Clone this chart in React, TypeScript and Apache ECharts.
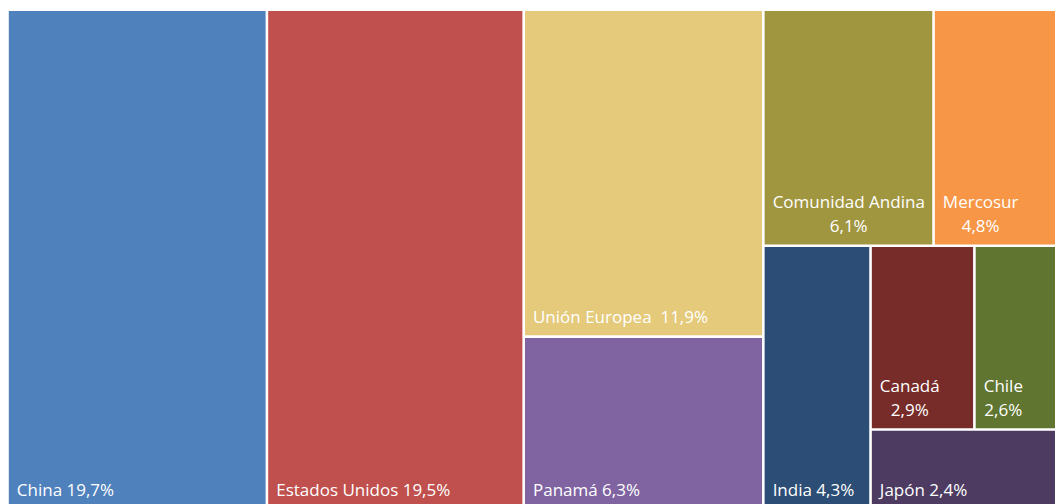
import { useEffect, useRef } from "react";
import * as echarts from "echarts";

// ---- data ----
const categories = [
  "China",
  "Estados Unidos",
  "Unión Europea",
  "Panamá",
  "Comunidad Andina",
  "Mercosur",
  "India",
  "Canadá",
  "Chile",
  "Japón",
];
const shares = [19.7, 19.5, 11.9, 6.3, 6.1, 4.8, 4.3, 2.9, 2.6, 2.4];
const colors = [
  "#4F81BD",
  "#C0504D",
  "#E4CA7A",
  "#8064A2",
  "#A19640",
  "#F79646",
  "#2C4D75",
  "#772C2A",
  "#5F7530",
  "#4D3B62",
];
// separator between name and percentage in each tile label ("\n" = two centred lines)
const labelSeparators = [" ", " ", "  ", " ", "\n", "\n", " ", "\n", "\n", " "];
// nesting of the tiles (indices into the arrays above) that reproduces the tile arrangement
const grouping: any[] = [0, 1, [2, 3], [[4, 5], [6, [[7, 8], 9]]]];

const FONT_FAMILY = '"Open Sans", sans-serif';
const FONT_SIZE = 17;
const LINE_HEIGHT = 24;
const PAD_LEFT = 8;
const PAD_BOTTOM = 6.5;

const fmtPct = (v: number) => v.toFixed(1).replace(".", ",") + "%";

function measure(text: string): number {
  const c = document.createElement("canvas");
  const ctx = c.getContext("2d");
  if (!ctx) return text.length * FONT_SIZE * 0.55;
  ctx.font = `${FONT_SIZE}px "Open Sans"`;
  return ctx.measureText(text).width;
}

function buildNode(node: any): any {
  if (typeof node === "number") {
    const i = node;
    const sep = labelSeparators[i];
    const text = categories[i] + sep + fmtPct(shares[i]);
    let label: any = { formatter: text };
    if (sep === "\n") {
      const w = Math.max(...text.split("\n").map(measure));
      label = {
        formatter: text,
        align: "center",
        padding: [0, 0, PAD_BOTTOM, 0],
        offset: [PAD_LEFT + w / 2, 0],
      };
    }
    return {
      name: categories[i],
      value: shares[i],
      itemStyle: { color: colors[i], borderWidth: 1.3, borderColor: "#ffffff" },
      label,
    };
  }
  const children = node.map(buildNode);
  const value = children.reduce((s: number, c: any) => s + c.value, 0);
  return {
    name: "",
    value,
    children,
    itemStyle: { borderWidth: 0, gapWidth: 0, borderColor: "#ffffff" },
  };
}

export default function App() {
  const ref = useRef<HTMLDivElement>(null);

  useEffect(() => {
    if (!ref.current) return;
    const chart = echarts.init(ref.current, null, { renderer: "svg" });
    const data = grouping.map(buildNode);
    chart.setOption({
      animation: false,
      backgroundColor: "#ffffff",
      series: [
        {
          type: "treemap",
          left: 7.5,
          top: 9.75,
          width: 1060,
          height: 500,
          roam: false,
          nodeClick: false,
          sort: false,
          squareRatio: 1,
          visibleMin: 0,
          breadcrumb: { show: false },
          upperLabel: { show: false },
          itemStyle: { borderWidth: 0, gapWidth: 0, borderColor: "#ffffff" },
          label: {
            show: true,
            position: "insideBottomLeft",
            distance: 0,
            padding: [0, 0, PAD_BOTTOM, PAD_LEFT],
            color: "#ffffff",
            fontFamily: FONT_FAMILY,
            fontSize: FONT_SIZE,
            lineHeight: LINE_HEIGHT,
            overflow: "none",
          },
          emphasis: { disabled: true },
          data,
        },
      ],
    });
    return () => chart.dispose();
  }, []);

  return (
    <div
      style={{
        position: "fixed",
        left: 0,
        top: 0,
        width: 1055,
        height: 504,
        overflow: "hidden",
        background: "#ffffff",
      }}
    >
      <div ref={ref} style={{ position: "absolute", left: 0, top: 0, width: 1100, height: 530 }} />
    </div>
  );
}
